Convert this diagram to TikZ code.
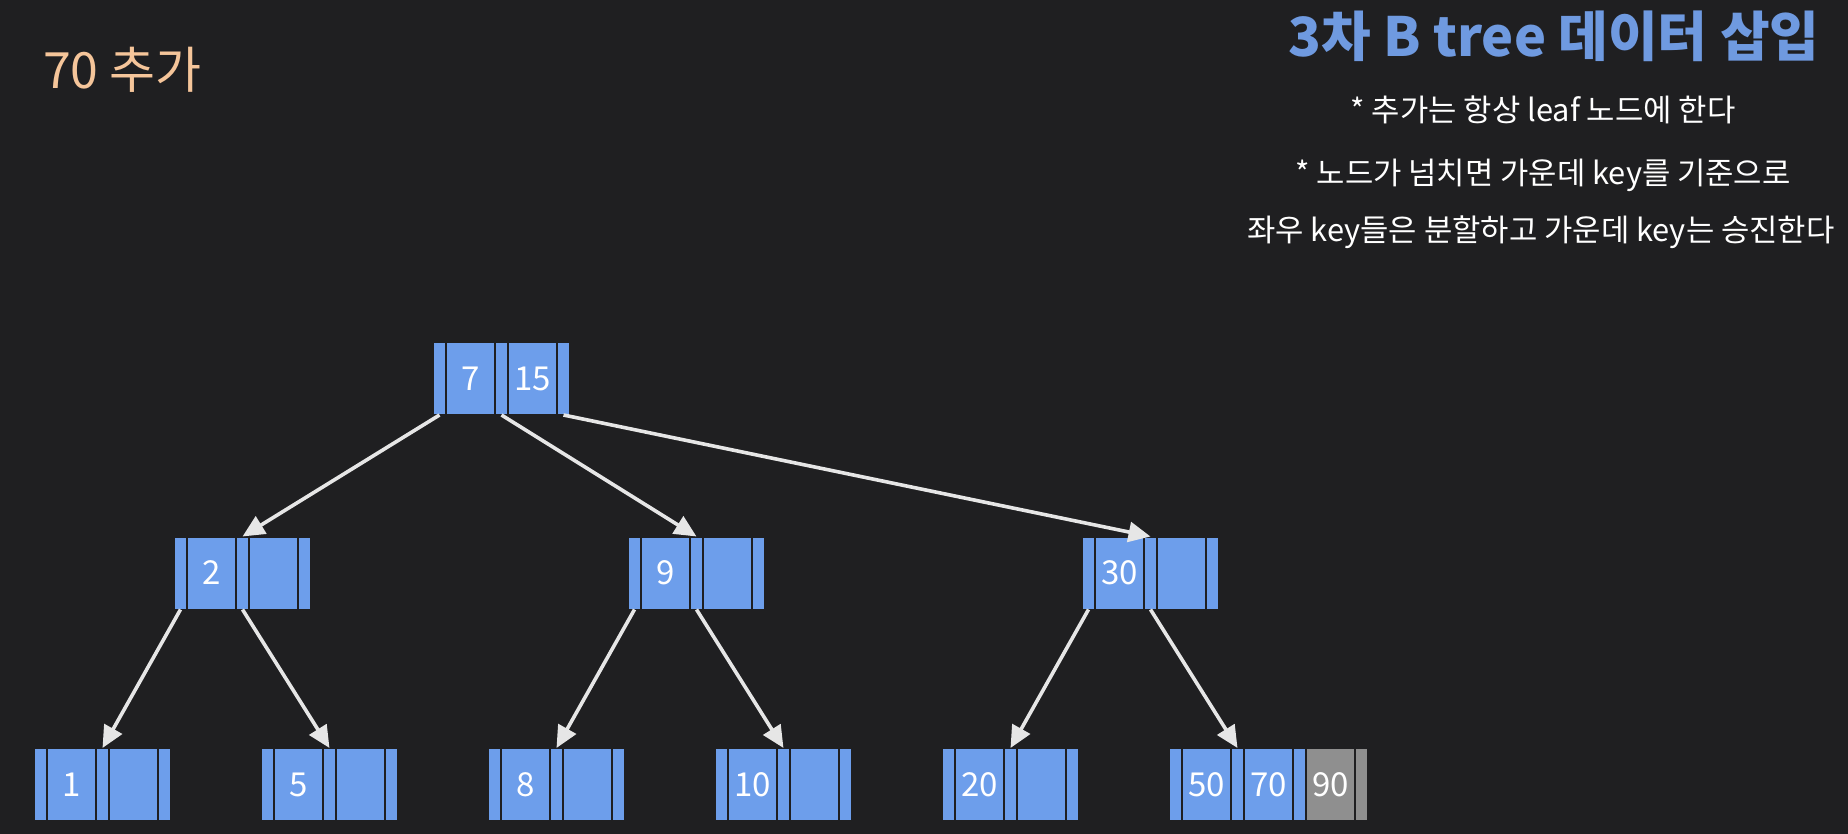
\documentclass[tikz,border=0pt]{standalone}
\usepackage{fontspec}
\setmainfont{Noto Sans CJK KR}
\usetikzlibrary{positioning,arrows.meta}

\definecolor{bgdark}{HTML}{1F1F21}
\definecolor{cellblue}{HTML}{6D9EEB}
\definecolor{cellgray}{HTML}{8F8F8F}
\definecolor{titleblue}{HTML}{6F9AE0}
\definecolor{peach}{HTML}{F5C59A}
\definecolor{arrowwhite}{HTML}{E6E6E6}

% one B tree node: name, left x, centre y, first key, second key
\newcommand{\btnode}[5]{
    \node[ptrcell, anchor=west] (#1p0) at (#2,#3) {};
    \node[keycell, right=0pt of #1p0] (#1k1) {#4};
    \node[ptrcell, right=0pt of #1k1] (#1p1) {};
    \node[keycell, right=0pt of #1p1] (#1k2) {#5};
    \node[ptrcell, right=0pt of #1k2] (#1p2) {};
}

\begin{document}
\begin{tikzpicture}[
    x=0.5pt, y=-0.5pt,
    ptrcell/.style={
        draw=bgdark,
        line width=1pt,
        fill=cellblue,
        minimum width=6.5pt,
        minimum height=36.5pt,
        inner sep=0pt,
        outer sep=0pt
    },
    keycell/.style={
        ptrcell,
        minimum width=24.5pt,
        text=white,
        font=\fontsize{16.5}{16.5}\selectfont
    },
    link/.style={-{Triangle[length=11pt,width=10pt]}, draw=arrowwhite, line width=1.8pt},
    rule/.style={text=white, font=\fontsize{15.4}{15.4}\selectfont}
]

% Background
\fill[bgdark] (0,0) rectangle (1848,834);
\useasboundingbox (0,0) rectangle (1848,834);

% Texts
\node[anchor=west, text=peach, font=\fontsize{25}{25}\selectfont] (added) at (36,70) {70 추가};
\node[text=titleblue, font=\bfseries\fontsize{27}{27}\selectfont] (title) at (1554,36) {3차 B tree 데이터 삽입};
\node[rule] (rule1) at (1543,110) {* 추가는 항상 leaf 노드에 한다};
\node[rule] (rule2) at (1543,175) {* 노드가 넘치면 가운데 key를 기준으로};
\node[rule] (rule3) at (1541,232) {좌우 key들은 분할하고 가운데 key는 승진한다};

% Root
\btnode{root}{433}{378.5}{7}{15}

% Second level
\btnode{a}{174}{573}{2}{}
\btnode{b}{628}{573}{9}{}
\btnode{c}{1082}{573}{30}{}

% Leaves
\btnode{la}{34}{784.5}{1}{}
\btnode{lb}{261}{784.5}{5}{}
\btnode{lc}{488}{784.5}{8}{}
\btnode{ld}{715}{784.5}{10}{}
\btnode{le}{942}{784.5}{20}{}
\btnode{lf}{1169}{784.5}{50}{70}

% Overflowing key
\node[keycell, fill=cellgray, right=0pt of lfp2] (lfk3) {90};
\node[ptrcell, fill=cellgray, right=0pt of lfk3] (lfp3) {};

% Links
\draw[link] (rootp0.south) -- (ap1.north);
\draw[link] (rootp1.south) -- (bp1.north);
\draw[link] (rootp2.south) -- (cp1.north);

\draw[link] (ap0.south) -- (lap1.north);
\draw[link] (ap1.south) -- (lbp1.north);
\draw[link] (bp0.south) -- (lcp1.north);
\draw[link] (bp1.south) -- (ldp1.north);
\draw[link] (cp0.south) -- (lep1.north);
\draw[link] (cp1.south) -- (lfp1.north);

\end{tikzpicture}
\end{document}
